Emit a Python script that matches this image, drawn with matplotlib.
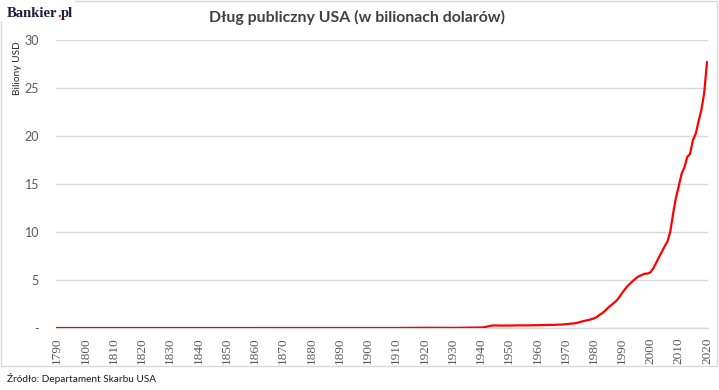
import matplotlib
matplotlib.use("Agg")
import matplotlib.pyplot as plt
from matplotlib.patches import Rectangle

# debt in trillions USD
early_years = [1790, 1800, 1810, 1820, 1830, 1840, 1850, 1860, 1870, 1880,
               1890, 1900, 1910, 1920, 1930]
early_debt = [0.00007, 0.00008, 0.00005, 0.00009, 0.00005, 0.00001, 0.00006,
              0.00006, 0.0024, 0.0021, 0.0012, 0.0012, 0.0011, 0.024, 0.016]

late_years = list(range(1940, 2021))
late_debt = [0.049, 0.072, 0.137, 0.201, 0.259, 0.269, 0.258, 0.252, 0.253, 0.257,
             0.255, 0.259, 0.266, 0.271, 0.274, 0.273, 0.271, 0.276, 0.285, 0.286,
             0.289, 0.298, 0.306, 0.312, 0.317, 0.320, 0.326, 0.348, 0.354, 0.371,
             0.398, 0.427, 0.458, 0.475, 0.533, 0.620, 0.699, 0.772, 0.827, 0.908,
             0.998, 1.14, 1.37, 1.56, 1.82, 2.12, 2.35, 2.60, 2.86, 3.23,
             3.67, 4.06, 4.41, 4.69, 4.97, 5.22, 5.41, 5.53, 5.66, 5.67,
             5.81, 6.23, 6.78, 7.38, 7.93, 8.51, 9.01, 10.02, 11.91, 13.56,
             14.79, 16.07, 16.74, 17.82, 18.15, 19.57, 20.24, 21.52, 22.72, 24.5,
             27.7]

years = early_years + late_years
debt = early_debt + late_debt

tick_years = list(range(1790, 2021, 10))
y_ticks = [0, 5, 10, 15, 20, 25, 30]
y_labels = ["-", "5", "10", "15", "20", "25", "30"]

fig = plt.figure(figsize=(7.19, 3.90), dpi=100)

# outer frame + white patch behind logo
fig.patches.append(Rectangle((0.001, 0.062), 0.996, 0.936, transform=fig.transFigure,
                             fill=False, edgecolor="#d9d9d9", lw=1.0))
fig.patches.append(Rectangle((0, 0.945), 0.105, 0.055, transform=fig.transFigure,
                             facecolor="white", edgecolor="none", zorder=2))

ax = fig.add_axes([0.0775, 0.159, 0.907, 0.738])
ax.plot(years, debt, color="#ff0000", lw=1.6, zorder=3)

ax.set_xlim(1789.5, 2020.3)
ax.set_ylim(0, 30)
ax.set_xticks(tick_years)
ax.set_xticklabels([str(y) for y in tick_years], rotation=90,
                   family="Liberation Serif", fontsize=9.5, color="#595959")
ax.set_yticks(y_ticks)
ax.set_yticklabels(y_labels, family="Lato", fontsize=9, color="#595959")
ax.tick_params(axis="x", length=0, pad=7)
ax.tick_params(axis="y", length=0, pad=12)
ax.grid(axis="y", color="#d9d9d9", lw=1.0)
ax.set_axisbelow(True)
for s in ["top", "right", "left"]:
    ax.spines[s].set_visible(False)
ax.spines["bottom"].set_color("#d9d9d9")
ax.spines["bottom"].set_linewidth(1.0)

fig.text(0.497, 0.955, "Dług publiczny USA (w bilionach dolarów)", ha="center",
         va="center", family="Lato", fontweight="bold", fontsize=11.4, color="#404040")
fig.text(0.025, 0.825, "Biliony USD", rotation=90, ha="center", va="center",
         family="Lato", fontsize=7.3, color="#262626")
fig.text(0.01, 0.03, "Źródło: Departament Skarbu USA", ha="left", va="center",
         family="Lato", fontsize=7.2, color="#1a1a1a")

logo = fig.text(0.01, 0.965, "Bankier", ha="left", va="center", family="Liberation Serif",
                fontweight="bold", fontsize=10.5, color="#1b1f3b", zorder=3)
dot = fig.text(0, 0, ".", color="#e30613", family="Liberation Serif",
               fontweight="bold", fontsize=10.5, zorder=3)
fig.canvas.draw()
bb = logo.get_window_extent().transformed(fig.transFigure.inverted())
dot.set_position((bb.x1, 0.965))
dot.set_va("center")
db = dot.get_window_extent().transformed(fig.transFigure.inverted())
fig.text(bb.x1 + db.width, 0.965, "pl", ha="left", va="center", family="Liberation Serif",
         fontweight="bold", fontsize=10.5, color="#1b1f3b", zorder=3)

fig.savefig("out.png", dpi=100)
